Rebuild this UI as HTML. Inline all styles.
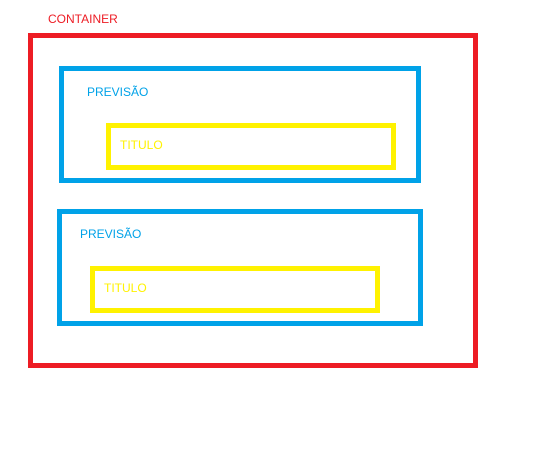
<!DOCTYPE html>
<html><head><style>
body{margin:0;width:546px;height:449px;background:#fff;position:relative;overflow:hidden;font-family:"Liberation Sans",sans-serif;font-size:12px}
.b{position:absolute;box-sizing:border-box}
.t{position:absolute;line-height:14px}
</style></head><body>
<div class="t" style="left:48px;top:12px;color:#ed1c24">CONTAINER</div>
<div class="b" style="left:28px;top:33px;width:450px;height:335px;border:5px solid #ed1c24"></div>
<div class="b" style="left:59px;top:66px;width:362px;height:117px;border:5px solid #00a2e8"></div>
<div class="t" style="left:87px;top:85px;color:#00a2e8">PREVISÃO</div>
<div class="b" style="left:106px;top:123px;width:290px;height:47px;border:5px solid #fff200"></div>
<div class="t" style="left:120px;top:138px;color:#fff200">TITULO</div>
<div class="b" style="left:57px;top:209px;width:366px;height:117px;border:5px solid #00a2e8"></div>
<div class="t" style="left:80px;top:227px;color:#00a2e8">PREVISÃO</div>
<div class="b" style="left:90px;top:266px;width:290px;height:47px;border:5px solid #fff200"></div>
<div class="t" style="left:104px;top:281px;color:#fff200">TITULO</div>
</body></html>
